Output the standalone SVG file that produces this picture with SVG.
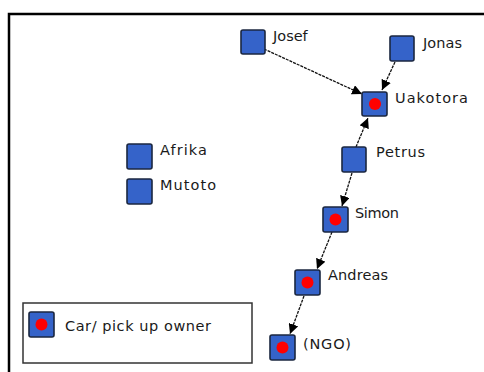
<svg xmlns="http://www.w3.org/2000/svg" width="484" height="372" viewBox="0 0 484 372">
<defs>
<style>
.sq{fill:#3563c9;stroke:#1b2740;stroke-width:1.6}
.dot{fill:#ff0000}
.lbl{font-family:"DejaVu Sans","Liberation Sans",sans-serif;font-size:14.5px;fill:#1a1a1a}
.cn{stroke:#111;stroke-width:1.3;stroke-dasharray:3 1;fill:none}
</style>
<marker id="ah" viewBox="0 0 10 10" refX="10" refY="5" markerWidth="10" markerHeight="10" markerUnits="userSpaceOnUse" orient="auto">
<path d="M0,0 L10,5 L0,10 z" fill="#000"/>
</marker>
</defs>
<rect width="484" height="372" fill="#fff"/>
<path d="M9,372 V14 H484" fill="none" stroke="#000" stroke-width="2.5"/>

<g id="connectors">
<line class="cn" x1="264" y1="49" x2="362" y2="94" marker-end="url(#ah)"/>
<line class="cn" x1="395" y1="62" x2="382" y2="90" marker-end="url(#ah)"/>
<line class="cn" x1="356" y1="147" x2="368" y2="118" marker-end="url(#ah)"/>
<line class="cn" x1="352" y1="173" x2="342" y2="206" marker-end="url(#ah)"/>
<line class="cn" x1="332" y1="232" x2="317" y2="269" marker-end="url(#ah)"/>
<line class="cn" x1="304" y1="296" x2="290" y2="334" marker-end="url(#ah)"/>
</g>

<g id="josef"><rect class="sq" x="241" y="30" width="24" height="24" rx="2"/><text class="lbl" x="273" y="41">Josef</text></g>
<g id="jonas"><rect class="sq" x="390" y="36" width="24" height="25" rx="2"/><text class="lbl" x="423" y="48" textLength="39">Jonas</text></g>
<g id="uakotora"><rect class="sq" x="362" y="92" width="25" height="24" rx="2"/><circle class="dot" cx="375" cy="104" r="6"/><text class="lbl" x="395" y="103" textLength="73">Uakotora</text></g>
<g id="petrus"><rect class="sq" x="342" y="147" width="24" height="25" rx="2"/><text class="lbl" x="376" y="157" textLength="49">Petrus</text></g>
<g id="simon"><rect class="sq" x="323" y="207" width="25" height="25" rx="2"/><circle class="dot" cx="335.5" cy="219.5" r="6"/><text class="lbl" x="355" y="218" textLength="44">Simon</text></g>
<g id="andreas"><rect class="sq" x="295" y="270" width="25" height="25" rx="2"/><circle class="dot" cx="307.5" cy="282.5" r="6"/><text class="lbl" x="328" y="280" textLength="60">Andreas</text></g>
<g id="ngo"><rect class="sq" x="270" y="335" width="25" height="25" rx="2"/><circle class="dot" cx="282.5" cy="347.5" r="6"/><text class="lbl" x="303" y="349" textLength="48">(NGO)</text></g>
<g id="afrika"><rect class="sq" x="127" y="144" width="25" height="25" rx="2"/><text class="lbl" x="160" y="155" textLength="47">Afrika</text></g>
<g id="mutoto"><rect class="sq" x="127" y="179" width="25" height="25" rx="2"/><text class="lbl" x="160" y="190" textLength="56">Mutoto</text></g>

<g id="legend">
<rect x="23" y="303" width="229" height="60" fill="#fff" stroke="#333" stroke-width="1.5"/>
<rect class="sq" x="29" y="312" width="25" height="25" rx="2"/><circle class="dot" cx="41.5" cy="324.5" r="6"/>
<text class="lbl" x="65" y="331" textLength="146">Car/ pick up owner</text>
</g>
</svg>
